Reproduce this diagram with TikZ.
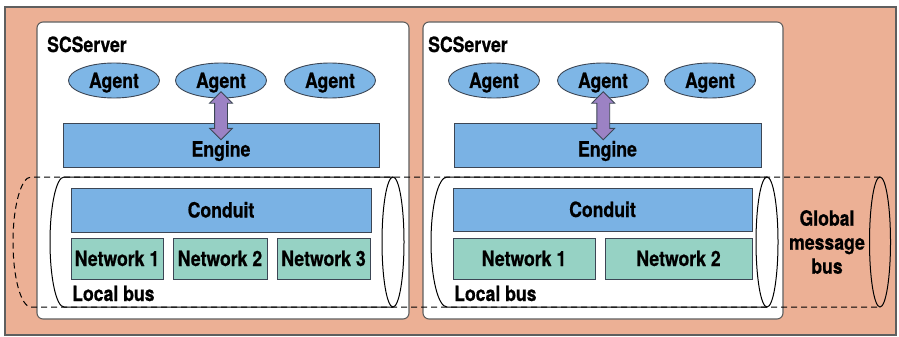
\documentclass[tikz,border=0pt]{standalone}
\usepackage{fontspec}
\setmainfont{TeX Gyre Heros}[FakeStretch=0.84, BoldFeatures={FakeBold=0.6}]
\usetikzlibrary{calc,shapes.geometric,shapes.arrows}

\definecolor{panelbg}{RGB}{236,176,149}
\definecolor{frameedge}{RGB}{95,95,95}
\definecolor{boxedge}{RGB}{60,70,85}
\definecolor{boxblue}{RGB}{122,178,228}
\definecolor{agentblue}{RGB}{126,182,230}
\definecolor{netgreen}{RGB}{150,210,196}
\definecolor{arrowpurple}{RGB}{156,130,196}

\begin{document}
\begin{tikzpicture}[x=1pt,y=-1pt,
  font=\fontsize{21}{24}\selectfont\bfseries,
  server/.style={draw=frameedge, line width=1.1pt, fill=white, rounded corners=6pt},
  block/.style={draw=boxedge, fill=boxblue, line width=0.9pt, inner sep=0pt,
                text height=15pt, text depth=0pt},
  netbox/.style={block, fill=netgreen, minimum height=41pt},
  agent/.style={ellipse, draw=boxedge, fill=agentblue, line width=0.9pt,
                minimum width=91pt, minimum height=35pt, inner sep=0pt,
                text height=15pt, text depth=0pt},
  link/.style={double arrow, rotate=90, draw=boxedge, fill=arrowpurple, line width=0.8pt,
               minimum height=48pt, minimum width=22pt, inner sep=6pt,
               double arrow head extend=5pt},
  busline/.style={line width=1pt, black},
  globalline/.style={busline, dash pattern=on 6pt off 4pt},
  caption/.style={inner sep=0pt, anchor=base west}
]
\useasboundingbox (0,0) rectangle (899,337);

% outer panel
\draw[draw=frameedge, line width=1.4pt, fill=panelbg] (5,7) rectangle (896,335);

% the two servers
\draw[server] (37,22) rectangle (409,319);
\draw[server] (423,22) rectangle (783,319);

% global message bus (dashed cylinder)
\draw[globalline] (880,177) -- (31,177)
  arc[start angle=270, end angle=90, x radius=18, y radius=65] -- (880,307);
\draw[busline] (880,242) ellipse[x radius=10.5, y radius=65];

% local buses (solid cylinders)
\draw[busline] (393,177) -- (64,177)
  arc[start angle=270, end angle=90, x radius=14, y radius=65] -- (393,307);
\draw[busline] (393,242) ellipse[x radius=11, y radius=65];
\draw[busline] (767,177) -- (447,177)
  arc[start angle=270, end angle=90, x radius=16, y radius=65] -- (767,307);
\draw[busline] (767,242) ellipse[x radius=11, y radius=65];

% left server
\node[caption] (scL) at (47,52) {SCServer};
\node[agent] (agL1) at (114,80.5) {Agent};
\node[agent] (agL2) at (221,80.5) {Agent};
\node[agent] (agL3) at (330,80.5) {Agent};
\node[block, minimum width=316pt, minimum height=44pt, text height=23pt] (engL) at (221,145) {Engine};
\node[block, minimum width=300pt, minimum height=44pt] (conL) at (221,210) {Conduit};
\node[netbox, minimum width=92pt] (nL1) at (117,258.5) {Network 1};
\node[netbox, minimum width=94pt] (nL2) at (220,258.5) {Network 2};
\node[netbox, minimum width=93pt] (nL3) at (323.5,258.5) {Network 3};
\node[caption] (lbL) at (72,301) {Local bus};
\node[link] (lkL) at ($(agL2.center)!0.5!(engL.center)+(0,3)$) {};

% right server
\node[caption] (scR) at (428,52) {SCServer};
\node[agent] (agR1) at (494,80.5) {Agent};
\node[agent] (agR2) at (603,80.5) {Agent};
\node[agent] (agR3) at (710,80.5) {Agent};
\node[block, minimum width=307pt, minimum height=44pt, text height=23pt] (engR) at (607.5,145) {Engine};
\node[block, minimum width=299pt, minimum height=43pt] (conR) at (602.5,209.5) {Conduit};
\node[netbox, minimum width=142pt] (nR1) at (524,258.5) {Network 1};
\node[netbox, minimum width=147pt] (nR2) at (678.5,258.5) {Network 2};
\node[caption] (lbR) at (454,301) {Local bus};
\node[link] (lkR) at ($(agR2.center)!0.5!(engR.center)+(-2,3)$) {};

% global bus label
\node[inner sep=0pt, align=center] (gbus) at (827,242) {Global\\message\\bus};
\end{tikzpicture}
\end{document}
